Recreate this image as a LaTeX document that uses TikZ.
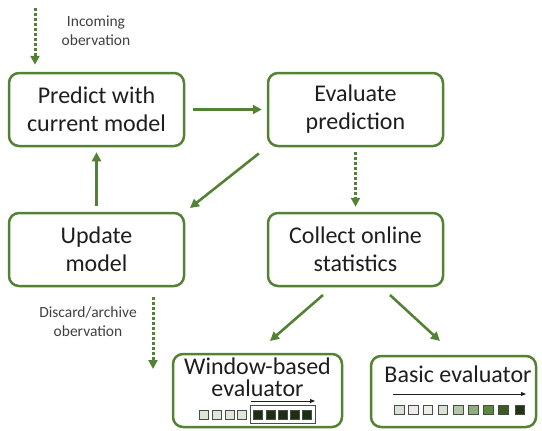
\documentclass[tikz,border=0pt]{standalone}
\usepackage{fontspec}
\setmainfont{Carlito}
\usepackage{xcolor}
\usetikzlibrary{arrows.meta, positioning}
\definecolor{leaf}{RGB}{84,130,53}
\definecolor{ink}{RGB}{30,30,30}

\begin{document}
\begin{tikzpicture}[x=1pt, y=-1pt, >={Triangle[length=9pt, width=9pt]},
  stage/.style={rectangle, rounded corners=10pt, draw=leaf, line width=2.5pt, align=center, minimum width=175pt, minimum height=73pt, font=\fontsize{24}{28}\selectfont, text=ink},
  flow/.style={->, draw=leaf, line width=2.6pt},
  feed/.style={flow, line width=3pt, dash pattern=on 3pt off 2pt},
  note/.style={font=\fontsize{15.5}{19}\selectfont, align=center, text=ink!85},
  cell/.style={rectangle, draw=ink!80, line width=1.2pt, minimum size=8.5pt, inner sep=0pt},
  slide/.style={-{Triangle[length=5pt, width=4pt]}, draw=ink, line width=0.9pt}]

            \useasboundingbox (0,0) rectangle (542,431);

            \node[stage] (predict) at (96.5,109.5) {Predict with\\current model};
            \node[stage] (evaluate) at (355.5,109.5) {Evaluate\\prediction};
            \node[stage] (update) at (96.5,249.5) {Update\\model};
            \node[stage] (collect) at (355.5,249.5) {Collect online\\statistics};
            \node[stage, minimum width=169pt, minimum height=73pt] (window) at (257.5,390.5) {};
            \node[stage, minimum width=165pt, minimum height=71pt] (basic) at (453.5,391.5) {};
            \node[font=\fontsize{24}{22}\selectfont, align=center, text=ink] (wintext) at (257.5,377) {Window-based\\evaluator};
            \node[font=\fontsize{24}{24}\selectfont, text=ink] (bastext) at (458,374) {Basic evaluator};

            \node[note] (incoming) at (96,31) {Incoming\\obervation};
            \node[note] (discard) at (88,322) {Discard/archive\\obervation};
            \coordinate (in) at (35,8);
            \coordinate (out) at (153,369);

            % window-based evaluator strip
            \foreach \x in {204,217,230,242}
              \node[cell, fill=leaf!20] at (\x,415) {};
            \foreach \x in {258,271,283,295,307}
              \node[cell, fill=leaf!35!black] at (\x,415) {};
            \node[rectangle, draw=ink!80, line width=1pt, minimum width=65pt, minimum height=18pt] (frame) at (282.5,414) {};
            \coordinate (wa) at (251,401);
            \coordinate (wb) at (315,401);
            \draw[slide] (wa) -- (wb);

            % basic evaluator strip
            \foreach \x/\c in {399.5/leaf!22, 413.5/black!8, 428/leaf!12, 443/leaf!22, 458.5/leaf!45, 473.5/leaf!65, 488.5/leaf!95, 503.5/leaf!70!black, 520/leaf!40!black}
              \node[cell, minimum size=9.5pt, fill=\c] at (\x,410) {};
            \coordinate (ba) at (393,394);
            \coordinate (bb) at (526,394);
            \draw[slide] (ba) -- (bb);

            % ends of the slanted arrows
            \coordinate (c1) at (323,295);
            \coordinate (c2) at (390,295);
            \coordinate (w1) at (270,341);
            \coordinate (b1) at (440,341);

            \path
            (predict) edge[flow, shorten <=8pt, shorten >=5pt] (evaluate)
            (update) edge[flow, shorten <=6pt, shorten >=5pt] (predict)
            (evaluate.south west) edge[flow, shorten <=10pt, shorten >=6pt] (update.north east)
            (c1) edge[flow] (w1)
            (c2) edge[flow] (b1)
            ;
            \draw[feed, shorten <=5pt, shorten >=5pt] (evaluate) -- (collect);
            \draw[feed, shorten >=7pt] (in) -- (predict.north -| in);
            \draw[feed, shorten <=10pt] (update.south -| out) -- (out);

        \end{tikzpicture}
\end{document}
